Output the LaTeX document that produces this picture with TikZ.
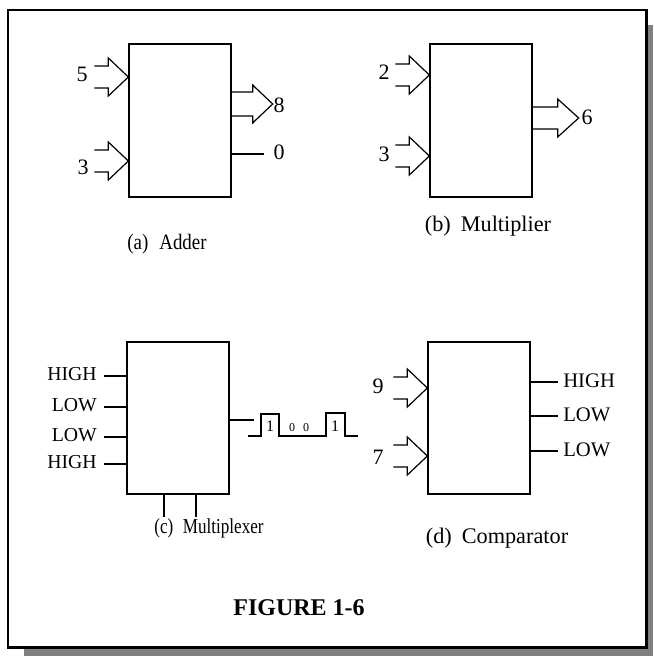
\documentclass[tikz,border=0pt]{standalone}
\usepackage{fontspec}
\setmainfont{Liberation Serif}
\newfontfamily\condA[FakeStretch=0.86]{Liberation Serif}
\newfontfamily\condC[FakeStretch=0.8]{Liberation Serif}
\begin{document}
\begin{tikzpicture}[x=0.75pt,y=-0.75pt,
  blk/.style={draw,line width=1pt,minimum width=76.5pt,minimum height=114.75pt,inner sep=0pt},
  wire/.style={line width=0.9pt},
  num/.style={font=\fontsize{16.5}{18}\selectfont,inner sep=0pt},
  lbl/.style={font=\fontsize{14.8}{16}\selectfont,inner sep=0pt},
  lblb/.style={font=\fontsize{15.5}{17}\selectfont,inner sep=0pt},
  capsmall/.style={font=\condA\fontsize{16.5}{18}\selectfont,inner sep=0pt},
  capmux/.style={font=\condC\fontsize{16}{18}\selectfont,inner sep=0pt},
  capbig/.style={font=\fontsize{16.7}{18}\selectfont,inner sep=0pt},
  bitone/.style={font=\fontsize{12}{13}\selectfont,inner sep=0pt},
  bitzero/.style={font=\fontsize{9}{10}\selectfont,inner sep=0pt},
  busin/.pic={\draw[line width=0.9pt,line join=miter] (-34,-11) -- (-20,-11) -- (-20,-19) -- (0,0) -- (-20,19) -- (-20,11) -- (-34,11);},
  busouta/.pic={\draw[line width=0.9pt,line join=miter] (0,-12) -- (21,-12) -- (21,-19) -- (41,0) -- (21,19) -- (21,12) -- (0,12);},
  busoutb/.pic={\draw[line width=0.9pt,line join=miter] (0,-11) -- (25,-11) -- (25,-19) -- (46,0) -- (25,19) -- (25,11) -- (0,11);}
]
\useasboundingbox (0,0) rectangle (653,656);
% frame with shadow
\fill[gray] (24,25) rectangle (653,656);
\draw[fill=white,line width=1.8pt] (8,10) rectangle (646.5,647.5);

% (a) Adder
\node[blk] (adder) at (180,120.5) {};
\pic at (adder.west |- 0,77) {busin};
\pic at (adder.west |- 0,161) {busin};
\node[num] (a5) at (82,74) {5};
\node[num] (a3) at (83,167) {3};
\pic at (adder.east |- 0,104) {busouta};
\node[num] (a8) at (279,105) {8};
\coordinate (a0end) at (264,154);
\draw[wire] (adder.east |- a0end) -- (a0end);
\node[num] (a0) at (279,152) {0};
\node[capsmall] (capa) at (167,244) {(a)\hspace{0.5em}Adder};

% (b) Multiplier
\node[blk] (mult) at (481,120.5) {};
\pic at (mult.west |- 0,75) {busin};
\pic at (mult.west |- 0,156) {busin};
\node[num] (b2) at (384,72) {2};
\node[num] (b3) at (384,154) {3};
\pic at (mult.east |- 0,118) {busoutb};
\node[num] (b6) at (587,117) {6};
\node[capbig] (capb) at (488,226) {(b)\hspace{0.45em}Multiplier};

% (c) Multiplexer
\node[blk,minimum height=114pt] (mux) at (178,418) {};
\foreach \y/\t/\n in {376/HIGH/c1,407/LOW/c2,437/LOW/c3,464/HIGH/c4}{
  \coordinate (\n s) at (104,\y);
  \draw[wire] (\n s) -- (mux.west |- \n s);
  \node[lbl,anchor=east] (\n) at (97,\y-2) {\t};
}
\coordinate (sel1) at (164,517);
\coordinate (sel2) at (196,517);
\draw[wire] (mux.south -| sel1) -- (sel1);
\draw[wire] (mux.south -| sel2) -- (sel2);
\coordinate (muxout) at (254,420);
\draw[wire] (mux.east |- muxout) -- (muxout);
\draw[wire] (248,436) -- (261,436) -- (261,414) -- (279,414) -- (279,436) -- (326,436) -- (326,413) -- (345,413) -- (345,436) -- (358,436);
\node[bitone] (w1) at (270,426) {1};
\node[bitzero] (w2) at (292,428) {0};
\node[bitzero] (w3) at (306,428) {0};
\node[bitone] (w4) at (335,426) {1};
\node[capmux] (capc) at (209,528) {(c)\hspace{0.45em}Multiplexer};

% (d) Comparator
\node[blk,minimum height=114pt] (comp) at (479,418) {};
\pic at (comp.west |- 0,388) {busin};
\pic at (comp.west |- 0,456) {busin};
\node[num] (d9) at (378,386) {9};
\node[num] (d7) at (378,457) {7};
\foreach \y/\t/\n in {382/HIGH/d1,416/LOW/d2,451/LOW/d3}{
  \coordinate (\n e) at (558,\y);
  \draw[wire] (comp.east |- \n e) -- (\n e);
  \node[lblb,anchor=west] (\n) at (563,\y-1) {\t};
}
\node[capbig] (capd) at (497,538) {(d)\hspace{0.45em}Comparator};

% title
\node[font=\fontsize{18}{20}\selectfont\bfseries,inner sep=0pt] (title) at (299,608) {FIGURE 1-6};
\end{tikzpicture}
\end{document}
